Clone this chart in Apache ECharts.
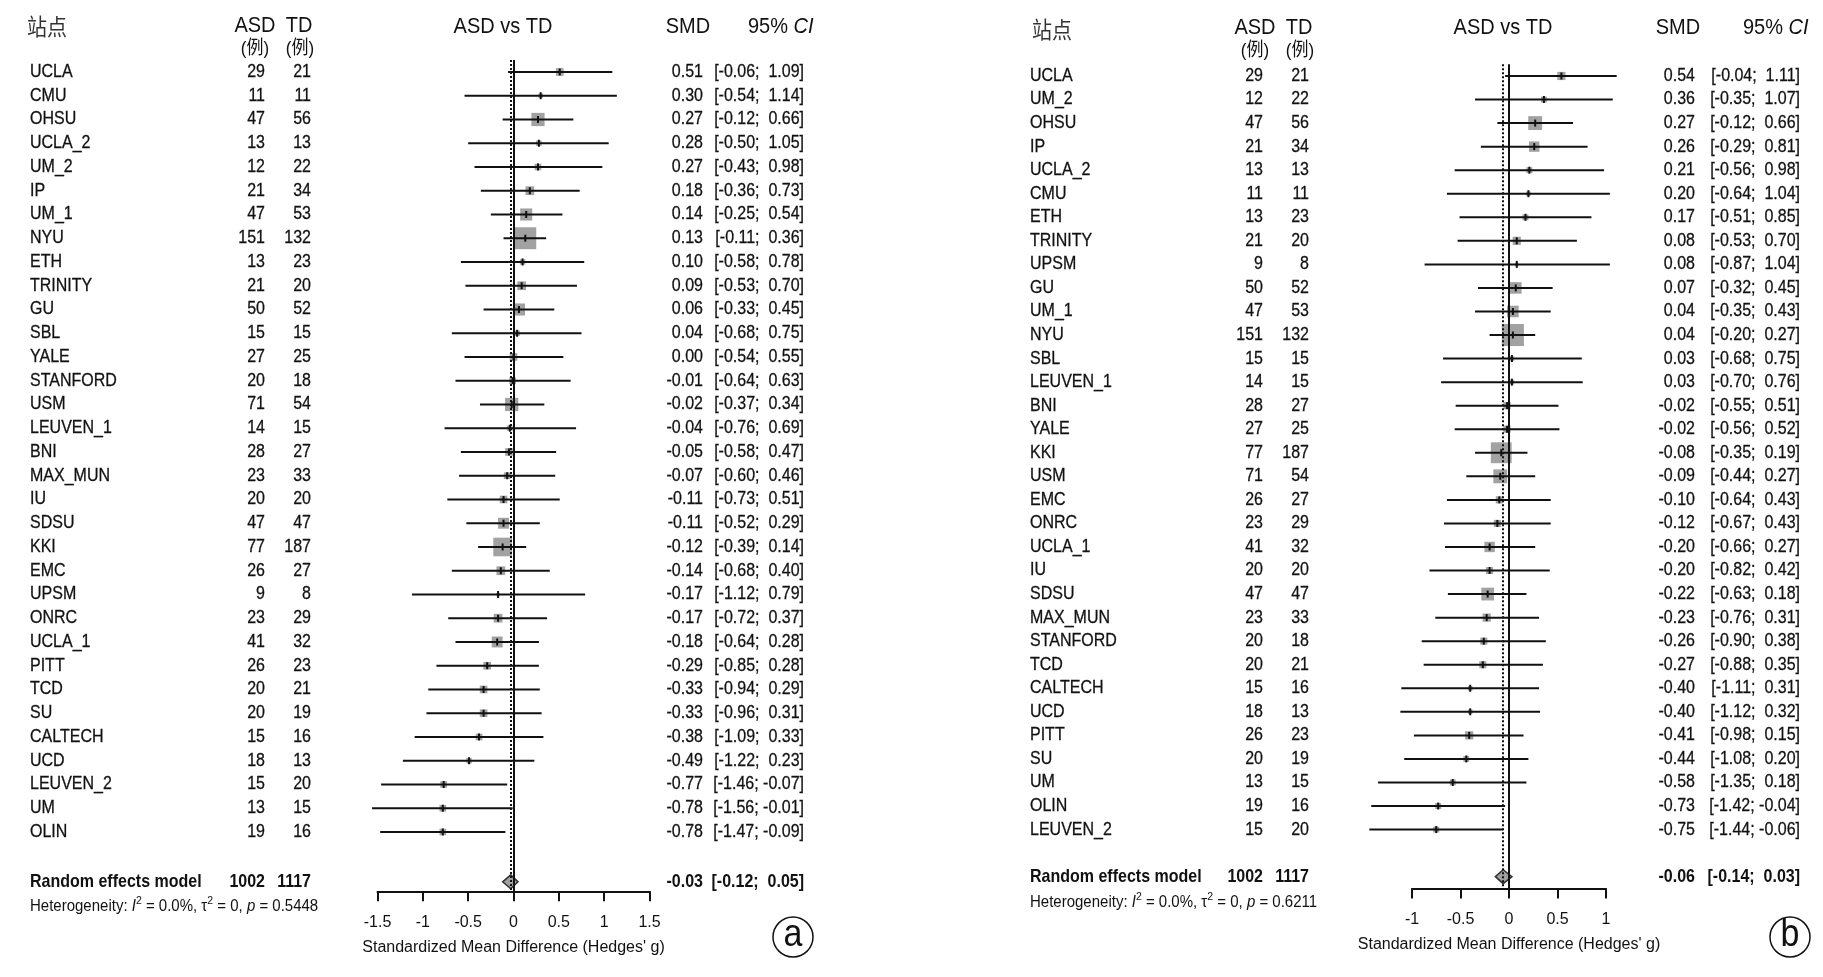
<!DOCTYPE html>
<html><head><meta charset="utf-8">
<script src="https://cdn.jsdelivr.net/npm/echarts@6/dist/echarts.min.js"></script>
<style>html,body{margin:0;padding:0;background:#fff}#c{width:1823px;height:977px}</style>
</head><body><div id="c"></div>
<script>
// ---------- Panel (a) data ----------
const sitesA = ['UCLA','CMU','OHSU','UCLA_2','UM_2','IP','UM_1','NYU','ETH','TRINITY','GU','SBL','YALE','STANFORD','USM','LEUVEN_1','BNI','MAX_MUN','IU','SDSU','KKI','EMC','UPSM','ONRC','UCLA_1','PITT','TCD','SU','CALTECH','UCD','LEUVEN_2','UM','OLIN'];
const asdA = [29,11,47,13,12,21,47,151,13,21,50,15,27,20,71,14,28,23,20,47,77,26,9,23,41,26,20,20,15,18,15,13,19];
const tdA  = [21,11,56,13,22,34,53,132,23,20,52,15,25,18,54,15,27,33,20,47,187,27,8,29,32,23,21,19,16,13,20,15,16];
const smdA = [0.51,0.30,0.27,0.28,0.27,0.18,0.14,0.13,0.10,0.09,0.06,0.04,0.00,-0.01,-0.02,-0.04,-0.05,-0.07,-0.11,-0.11,-0.12,-0.14,-0.17,-0.17,-0.18,-0.29,-0.33,-0.33,-0.38,-0.49,-0.77,-0.78,-0.78];
const loA  = [-0.06,-0.54,-0.12,-0.50,-0.43,-0.36,-0.25,-0.11,-0.58,-0.53,-0.33,-0.68,-0.54,-0.64,-0.37,-0.76,-0.58,-0.60,-0.73,-0.52,-0.39,-0.68,-1.12,-0.72,-0.64,-0.85,-0.94,-0.96,-1.09,-1.22,-1.46,-1.56,-1.47];
const hiA  = [1.09,1.14,0.66,1.05,0.98,0.73,0.54,0.36,0.78,0.70,0.45,0.75,0.55,0.63,0.34,0.69,0.47,0.46,0.51,0.29,0.14,0.40,0.79,0.37,0.28,0.28,0.29,0.31,0.33,0.23,-0.07,-0.01,-0.09];
const weightA = [2.0,0.7,6.0,1.0,1.5,2.6,5.0,16.5,1.0,2.6,5.0,1.0,2.0,1.5,6.0,1.0,2.0,1.5,2.0,4.1,11.9,2.6,0.4,2.6,4.1,2.0,2.0,2.0,1.5,1.0,1.5,1.5,1.5];
const summaryA = [-0.03,-0.12,0.05];
const totalsA = [1002,1117];
const hetA = ['0.0%','0','0.5448'];

// ---------- Panel (b) data ----------
const sitesB = ['UCLA','UM_2','OHSU','IP','UCLA_2','CMU','ETH','TRINITY','UPSM','GU','UM_1','NYU','SBL','LEUVEN_1','BNI','YALE','KKI','USM','EMC','ONRC','UCLA_1','IU','SDSU','MAX_MUN','STANFORD','TCD','CALTECH','UCD','PITT','SU','UM','OLIN','LEUVEN_2'];
const asdB = [29,12,47,21,13,11,13,21,9,50,47,151,15,14,28,27,77,71,26,23,41,20,47,23,20,20,15,18,26,20,13,19,15];
const tdB  = [21,22,56,34,13,11,23,20,8,52,53,132,15,15,27,25,187,54,27,29,32,20,47,33,18,21,16,13,23,19,15,16,20];
const smdB = [0.54,0.36,0.27,0.26,0.21,0.20,0.17,0.08,0.08,0.07,0.04,0.04,0.03,0.03,-0.02,-0.02,-0.08,-0.09,-0.10,-0.12,-0.20,-0.20,-0.22,-0.23,-0.26,-0.27,-0.40,-0.40,-0.41,-0.44,-0.58,-0.73,-0.75];
const loB  = [-0.04,-0.35,-0.12,-0.29,-0.56,-0.64,-0.51,-0.53,-0.87,-0.32,-0.35,-0.20,-0.68,-0.70,-0.55,-0.56,-0.35,-0.44,-0.64,-0.67,-0.66,-0.82,-0.63,-0.76,-0.90,-0.88,-1.11,-1.12,-0.98,-1.08,-1.35,-1.42,-1.44];
const hiB  = [1.11,1.07,0.66,0.81,0.98,1.04,0.85,0.70,1.04,0.45,0.43,0.27,0.75,0.76,0.51,0.52,0.19,0.27,0.43,0.43,0.27,0.42,0.18,0.31,0.38,0.35,0.31,0.32,0.15,0.20,0.18,-0.04,-0.06];
const weightB = [2.3,1.2,6.6,3.7,1.2,0.7,1.2,2.3,0.4,4.6,4.6,16.7,0.7,0.7,1.7,1.7,14.9,6.6,1.7,1.7,3.7,1.7,5.6,2.3,1.7,1.7,0.7,0.7,2.3,1.2,1.2,1.2,1.2];
const summaryB = [-0.06,-0.14,0.03];
const totalsB = [1002,1117];
const hetB = ['0.0%','0','0.6211'];

const xTicksA = [-1.5, 1.5, 0.5];  // min, max, interval
const xTicksB = [-1, 1, 0.5];

// ---------- styling ----------
const FF = '"Liberation Sans", Arial, Helvetica, sans-serif';
const CJK = '"Liberation Sans", "Noto Sans CJK SC", sans-serif';
const INK = '#111';
const BOX_K = 5.4;
const SY = 1.12;   // vertical stretch of the scanned text

function txt(x, y, s, align, bold, size) {
  return {type:'text', x:x, y:y, scaleY:SY, style:{text:s, font:(bold?'bold ':'')+(size||16)+'px '+FF, fill:INK,
    stroke:bold?null:INK, lineWidth:bold?0:0.25,
    align:align, textAlign:align, verticalAlign:'middle', textVerticalAlign:'middle'}};
}
function pad5(v) { const s = v.toFixed(2); return s.length < 5 ? ' ' + s : s; }
function ci(lo, hi) { return '[' + pad5(lo) + '; ' + pad5(hi) + ']'; }

function panel(cfg) {
  const rowRender = function(params, api) {
    const i = api.value(1);
    const est = api.value(0), lo = api.value(2), hi = api.value(3), w = api.value(4);
    const c = api.coord([est, i]);
    const cl = api.coord([lo, i]);
    const ch = api.coord([hi, i]);
    const y = c[1];
    const s = BOX_K * Math.sqrt(w);
    return {type:'group', children:[
      {type:'rect', shape:{x:c[0]-s/2, y:y-s/2, width:s, height:s}, style:{fill:'#a2a2a2'}},
      {type:'line', shape:{x1:cl[0], y1:y, x2:ch[0], y2:y}, style:{stroke:INK, lineWidth:2}},
      {type:'line', shape:{x1:c[0], y1:y-3.5, x2:c[0], y2:y+3.5}, style:{stroke:INK, lineWidth:2}},
      txt(cfg.nameX, y, cfg.sites[i], 'left'),
      txt(cfg.asdX, y, String(cfg.asd[i]), 'right'),
      txt(cfg.tdX, y, String(cfg.td[i]), 'right'),
      txt(cfg.smdX, y, est.toFixed(2), 'right'),
      txt(cfg.endX, y, ci(lo, hi), 'right')
    ]};
  };
  const n = cfg.sites.length;
  const sumRow = n - 1 + cfg.sumGap;
  const sumRender = function(params, api) {
    const est = api.value(0), lo = api.value(2), hi = api.value(3);
    const c = api.coord([est, sumRow]);
    const cl = api.coord([lo, sumRow]);
    const ch = api.coord([hi, sumRow]);
    const y = c[1], h = 7;
    const yh = api.coord([est, sumRow + cfg.hetGap])[1];
    return {type:'group', children:[
      {type:'polygon', shape:{points:[[cl[0],y],[c[0],y-h],[ch[0],y],[c[0],y+h]]}, style:{fill:'#a0a0a0', stroke:'#333', lineWidth:1.5}},
      txt(cfg.nameX, y, 'Random effects model', 'left', true),
      txt(cfg.asdX, y, String(cfg.totals[0]), 'right', true),
      txt(cfg.tdX, y, String(cfg.totals[1]), 'right', true),
      txt(cfg.smdX, y, est.toFixed(2), 'right', true),
      txt(cfg.endX, y, ci(lo, hi), 'right', true),
      {type:'text', x:cfg.nameX, y:yh, scaleY:SY, style:{
        text:'{n|Heterogeneity: }{i|I}{s|2}{n| = '+cfg.het[0]+', τ}{s|2}{n| = '+cfg.het[1]+', }{i|p}{n| = '+cfg.het[2]+'}',
        align:'left', textAlign:'left', verticalAlign:'middle', textVerticalAlign:'middle', fill:INK,
        rich:{
          n:{font:'15px '+FF, fill:INK, lineHeight:18, verticalAlign:'bottom'},
          i:{font:'italic 15px '+FF, fill:INK, lineHeight:18, verticalAlign:'bottom'},
          s:{font:'10.5px '+FF, fill:INK, lineHeight:18, verticalAlign:'top'}
        }}}
    ]};
  };
  const rows = cfg.sites.map((_, i) => [cfg.smd[i], i, cfg.lo[i], cfg.hi[i], cfg.w[i]]);
  return [
    {type:'custom', xAxisIndex:cfg.idx, yAxisIndex:cfg.idx, clip:false, silent:true, z:3,
     encode:{x:0, y:1}, data:rows, renderItem:rowRender},
    {type:'custom', xAxisIndex:cfg.idx, yAxisIndex:cfg.idx, clip:false, silent:true, z:4,
     encode:{x:0, y:1}, data:[[cfg.sum[0], sumRow, cfg.sum[1], cfg.sum[2]]], renderItem:sumRender,
     markLine:{silent:true, symbol:'none', label:{show:false}, animation:false,
       data:[
         {xAxis:0, lineStyle:{color:INK, width:2, type:'solid'}},
         {xAxis:cfg.sum[0], lineStyle:{color:INK, width:2, type:[2,2]}}
       ]}}
  ];
}

const cfgA = {idx:0, sites:sitesA, asd:asdA, td:tdA, smd:smdA, lo:loA, hi:hiA, w:weightA, sum:summaryA, totals:totalsA, het:hetA,
  nameX:30, asdX:265, tdX:311, smdX:703, endX:804, sumGap:2.1, hetGap:0.97};
const cfgB = {idx:1, sites:sitesB, asd:asdB, td:tdB, smd:smdB, lo:loB, hi:hiB, w:weightB, sum:summaryB, totals:totalsB, het:hetB,
  nameX:1030, asdX:1263, tdX:1309, smdX:1695, endX:1800, sumGap:2.0, hetGap:1.0};

function xAxisDef(idx, t) {
  return {type:'value', gridIndex:idx, min:t[0], max:t[1], interval:t[2],
    name:"Standardized Mean Difference (Hedges' g)", nameLocation:'middle', nameGap:48,
    nameTextStyle:{fontFamily:FF, fontSize:16, color:INK},
    axisLine:{show:true, onZero:false, lineStyle:{color:INK, width:2}},
    axisTick:{show:true, length:10, lineStyle:{color:INK, width:2}},
    axisLabel:{fontFamily:FF, fontSize:16, color:INK, margin:23},
    splitLine:{show:false}};
}
function yAxisDef(idx, n) {
  return {type:'value', gridIndex:idx, inverse:true, min:-0.5, max:n + 1.5, show:false, splitLine:{show:false}};
}

function head(x, y, s, align, size, font, color) {
  return {type:'text', x:x, y:y, scaleY:SY, style:{text:s, font:size+'px '+(font||FF), fill:color||INK,
    align:align, textAlign:align, verticalAlign:'middle', textVerticalAlign:'middle'}};
}
function ciHead(x, y) {
  return {type:'text', x:x, y:y, scaleY:SY, style:{text:'{n|95% }{i|CI}', align:'left', textAlign:'left',
    verticalAlign:'middle', textVerticalAlign:'middle',
    rich:{n:{font:'20px '+FF, fill:INK}, i:{font:'italic 20px '+FF, fill:INK}}}};
}
function badge(cx, cy, letter) {
  return [
    {type:'circle', shape:{cx:cx, cy:cy, r:20}, style:{fill:'none', stroke:INK, lineWidth:1.5}},
    head(cx, cy-2, letter, 'center', 34)
  ];
}
const CJKH = '"Noto Sans CJK SC", sans-serif';

const chart = echarts.init(document.getElementById('c'), null, {renderer:'canvas'});
chart.setOption({
  animation:false,
  backgroundColor:'#fff',
  grid:[
    {left:377.5, top:60.1, width:272, height:831.25},
    {left:1412, top:64.2, width:194, height:824.25}
  ],
  xAxis:[xAxisDef(0, xTicksA), xAxisDef(1, xTicksB)],
  yAxis:[yAxisDef(0, sitesA.length), yAxisDef(1, sitesB.length)],
  graphic:[
    head(27, 26, '站点', 'left', 20, CJKH, '#333'),
    head(255, 26, 'ASD', 'center', 20), head(299, 26, 'TD', 'center', 20),
    head(255, 49, '(例)', 'center', 17, CJK), head(300, 49, '(例)', 'center', 17, CJK),
    head(503, 27, 'ASD vs TD', 'center', 20),
    head(688, 27, 'SMD', 'center', 20),
    ciHead(748, 27),
    head(1032, 29, '站点', 'left', 20, CJKH, '#333'),
    head(1255, 28, 'ASD', 'center', 20), head(1299, 28, 'TD', 'center', 20),
    head(1255, 51, '(例)', 'center', 17, CJK), head(1300, 51, '(例)', 'center', 17, CJK),
    head(1503, 28, 'ASD vs TD', 'center', 20),
    head(1678, 28, 'SMD', 'center', 20),
    ciHead(1743, 28),
    ...badge(793, 937, 'a'),
    ...badge(1790, 937, 'b')
  ],
  series:[...panel(cfgA), ...panel(cfgB)]
});
</script>
</body></html>
